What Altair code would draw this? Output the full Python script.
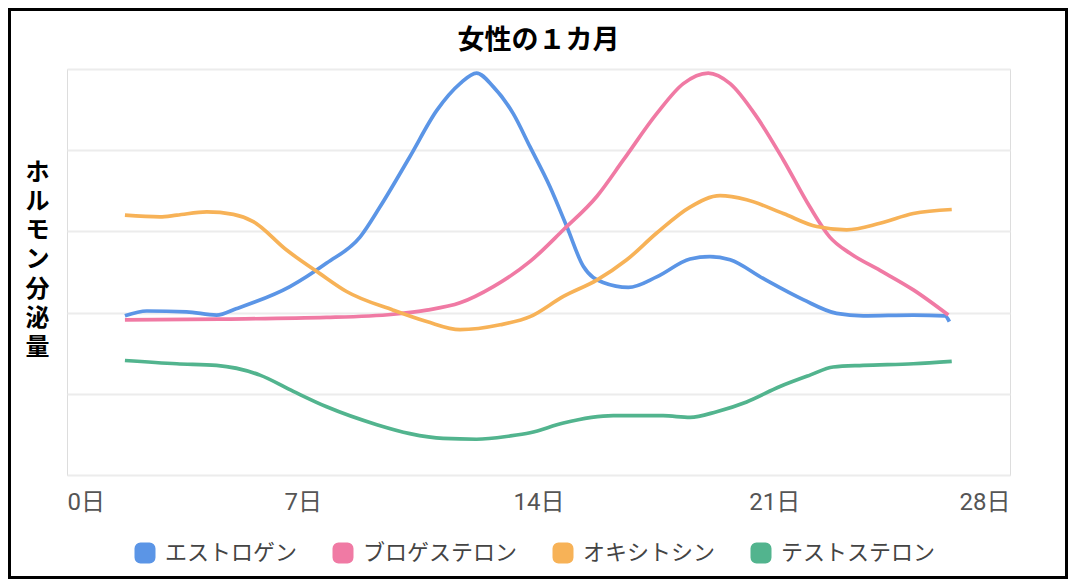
import altair as alt
import pandas as pd

# ---- data ----
series_names = ["エストロゲン", "ブロゲステロン", "オキシトシン", "テストステロン"]
series_colors = ["#5b95e6", "#f07aa4", "#f7b257", "#52b48e"]

estrogen_day = [1.72, 2.37, 3.55, 4.44, 5.04, 6.62, 7.71, 8.70, 9.29, 10.18, 10.98, 11.67, 12.16, 12.66, 13.25,
                13.75, 14.34, 14.84, 15.33, 15.92, 16.67, 17.51, 18.5, 19.09, 19.69, 20.67, 21.86, 22.85, 23.64,
                25.13, 26.07, 26.2]
estrogen_val = [1.96, 2.02, 2.01, 1.97, 2.05, 2.32, 2.61, 2.93, 3.30, 3.92, 4.49, 4.82, 4.95, 4.78, 4.45,
                4.04, 3.55, 3.06, 2.57, 2.37, 2.31, 2.44, 2.66, 2.69, 2.65, 2.42, 2.16, 1.99, 1.96,
                1.97, 1.96, 1.89]

progesterone_day = [1.72, 4.54, 7.71, 9.69, 10.68, 11.67, 12.66, 13.75, 14.74, 15.73, 16.52, 17.51, 18.3, 19.04,
                    19.69, 20.48, 21.27, 22.06, 22.65, 23.25, 24.14, 25.13, 26.17]
progesterone_val = [1.91, 1.92, 1.94, 1.98, 2.03, 2.12, 2.32, 2.63, 3.02, 3.43, 3.88, 4.45, 4.82, 4.95,
                    4.82, 4.41, 3.88, 3.30, 2.93, 2.73, 2.52, 2.28, 1.97]

oxytocin_day = [1.72, 2.76, 3.26, 4.15, 4.94, 5.53, 6.52, 7.51, 8.30, 9.69, 10.68, 11.67, 12.86, 13.75, 14.74,
                15.73, 16.62, 17.51, 18.5, 19.39, 20.18, 21.27, 22.26, 23.15, 24.14, 25.13, 26.27]
oxytocin_val = [3.20, 3.18, 3.20, 3.24, 3.21, 3.12, 2.77, 2.48, 2.26, 2.03, 1.89, 1.79, 1.85, 1.95, 2.20,
                2.40, 2.65, 2.98, 3.30, 3.44, 3.39, 3.22, 3.06, 3.02, 3.10, 3.22, 3.27]

testosterone_day = [1.72, 3.26, 4.44, 5.73, 6.72, 7.71, 9.20, 10.18, 11.17, 12.16, 13.15, 13.75, 14.74, 16.22,
                    17.7, 18.5, 19.29, 20.18, 21.17, 22.06, 22.75, 23.64, 25.13, 26.27]
testosterone_val = [1.41, 1.37, 1.35, 1.23, 1.03, 0.84, 0.62, 0.51, 0.45, 0.44, 0.48, 0.52, 0.64, 0.73,
                    0.73, 0.71, 0.78, 0.90, 1.09, 1.23, 1.33, 1.35, 1.37, 1.40]

x_ticks = [0, 7, 14, 21, 28]
y_grid = [0, 1, 2, 3, 4, 5]
chart_title = "女性の１カ月"
y_title = "ホルモン分泌量"

rows = []
for name, days, vals in zip(series_names,
                            [estrogen_day, progesterone_day, oxytocin_day, testosterone_day],
                            [estrogen_val, progesterone_val, oxytocin_val, testosterone_val]):
    for i, (d, v) in enumerate(zip(days, vals)):
        rows.append({"series": name, "day": d, "value": v, "order": i})
df = pd.DataFrame(rows)

FONT = "Noto Sans CJK JP"
LABEL_FONT = "Roboto, 'Noto Sans CJK JP'"
# small, slightly rounded square drawn with a thick stroke -> filled rounded swatch
swatch = ("M-0.9,-1 H0.9 A0.1,0.1 0 0 1 1,-0.9 V0.9 A0.1,0.1 0 0 1 0.9,1 "
          "H-0.9 A0.1,0.1 0 0 1 -1,0.9 V-0.9 A0.1,0.1 0 0 1 -0.9,-1 Z")

lines = alt.Chart(df).mark_line(strokeWidth=3.7, interpolate="monotone").encode(
    x=alt.X("day:Q", scale=alt.Scale(domain=[0, 28], nice=False),
            axis=alt.Axis(values=x_ticks, labelExpr="datum.value + '日'", labelFlush=True,
                          ticks=False, domain=False, grid=False, labelFontSize=24,
                          labelColor="#555555", labelFont=LABEL_FONT, labelPadding=15, title=None)),
    y=alt.Y("value:Q", scale=alt.Scale(domain=[0, 5], nice=False, zero=True),
            axis=alt.Axis(values=y_grid, labels=False, ticks=False, domain=False,
                          grid=True, gridColor="#ececec", gridWidth=2,
                          title=list(y_title), titleAngle=0, titleX=-30, titleY=103,
                          titleAlign="center", titleBaseline="middle",
                          titleFontSize=24, titleLineHeight=29.3, titleFontWeight="bold",
                          titleColor="#000000", titleFont=FONT)),
    color=alt.Color("series:N",
                    scale=alt.Scale(domain=series_names, range=series_colors),
                    legend=alt.Legend(title=None, orient="none", direction="horizontal",
                                      legendX=67, legendY=473,
                                      symbolType=swatch, symbolSize=100,
                                      symbolStrokeWidth=11, labelFontSize=22, labelFont=FONT,
                                      labelColor="#444444", labelOffset=9, columnPadding=18)),
    order="order:Q",
)

frame = alt.Chart(pd.DataFrame({"k": [0]})).mark_rect(
    fill=None, stroke="#000000", strokeWidth=3, clip=False
).encode(
    x=alt.value(-57.5), x2=alt.value(999.5), y=alt.value(-59.5), y2=alt.value(508.5)
)

chart = alt.layer(lines, frame).properties(
    width=943, height=406,
    padding={"left": 59, "top": 61, "right": 58, "bottom": 104},
    autosize=alt.AutoSizeParams(type="none"),
    title=alt.TitleParams(chart_title, fontSize=27, fontWeight="bold", font=FONT,
                          color="#000000", anchor="middle", frame="group", offset=16, dy=63),
).configure_view(stroke="#d2d2d2", strokeWidth=3).configure(background="white")

chart.save("out.html", embed_options={"renderer": "svg", "actions": False})
